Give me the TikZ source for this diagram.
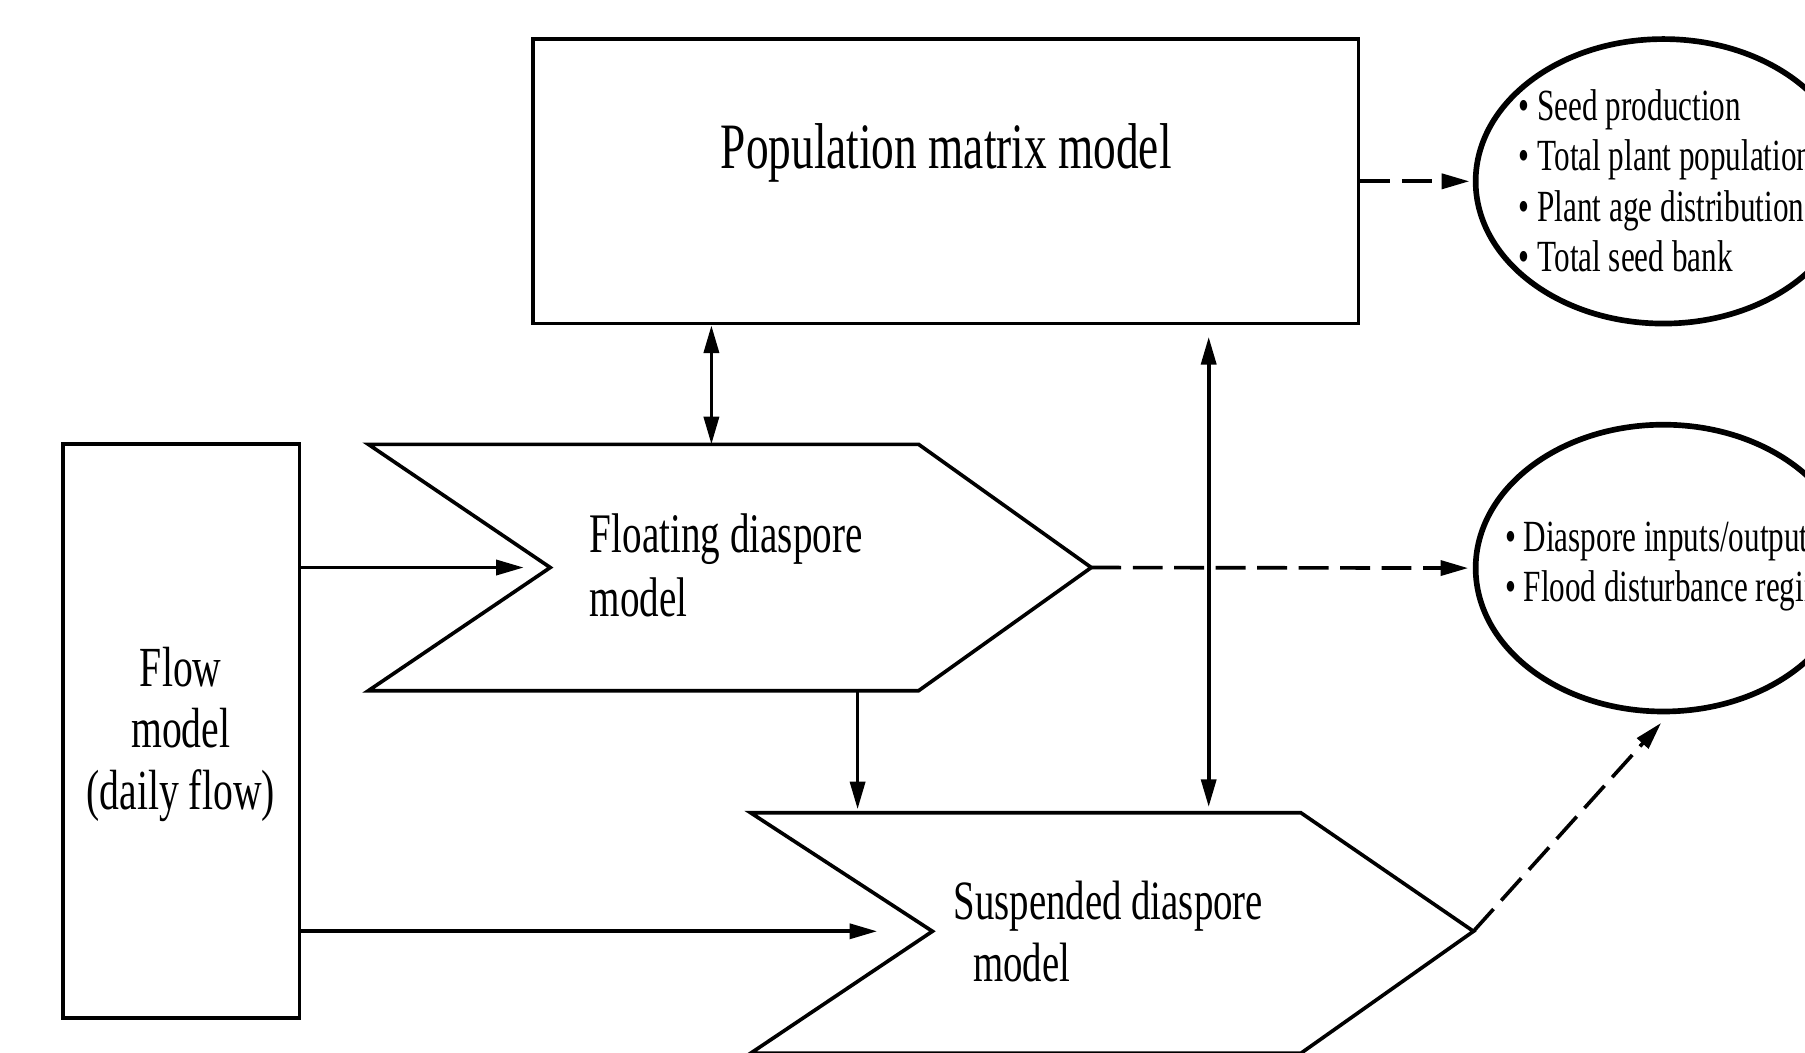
\documentclass[tikz,border=0pt]{standalone}
\usepackage{fontspec}
\setmainfont[FakeStretch=0.7]{Liberation Serif}
\usetikzlibrary{arrows.meta,shapes.geometric}

\begin{document}
\begin{tikzpicture}[x=0.01cm,y=-0.01cm,
  box/.style={draw,line width=0.9pt,inner sep=0pt},
  outbox/.style={draw,ellipse,line width=1.4pt,inner sep=0pt},
  arr/.style={line width=0.9pt,-{Triangle[length=0.24cm,width=0.13cm]}},
  darr/.style={line width=0.9pt,{Triangle[length=0.24cm,width=0.13cm]}-{Triangle[length=0.24cm,width=0.13cm]}},
  dasharr/.style={arr,dash pattern=on 0.26cm off 0.1cm}]
\useasboundingbox (0,0) rectangle (1568,914);
\clip (0,0) rectangle (1568,914);

\node[box,minimum width=7.17cm,minimum height=2.47cm] (pop) at (821.5,157.5) {};
\node[font=\fontsize{16}{19}\selectfont] (poptxt) at (822,133) {Population matrix model};

\node[box,align=center,font=\fontsize{14}{15.3}\selectfont,
  minimum width=2.05cm,minimum height=4.98cm] (flow) at (157.5,635) {};
\node[align=center,font=\fontsize{14}{15.3}\selectfont] (flowtxt) at (157,638) {Flow\\model\\(daily flow)};

\coordinate (fl-top) at (618,386);
\coordinate (fl-bot) at (745,600);
\coordinate (fl-tip) at (948,493);
\coordinate (fl-notch) at (478,493);
\draw[line width=0.9pt] (320,386) -- (798,386) -- (fl-tip) -- (798,600) -- (320,600) -- (fl-notch) -- cycle;
\node[anchor=west,align=left,font=\fontsize{13.8}{15.9}\selectfont] (fltxt) at (500,491)
  {Floating diaspore\\model};

\coordinate (sus-top) at (1050,706);
\coordinate (sus-in) at (745,706);
\coordinate (sus-tip) at (1280,809);
\coordinate (sus-notch) at (810,809);
\draw[line width=0.9pt] (652,706) -- (1130,706) -- (sus-tip) -- (1130,915) -- (652,915) -- (sus-notch) -- cycle;
\node[anchor=west,align=left,font=\fontsize{13.7}{15.3}\selectfont] (sustxt) at (816,809)
  {Suspended diaspore\\\hspace{0.17cm}model};

\node[outbox,minimum width=3.26cm,minimum height=2.47cm] (outA) at (1445,157.5) {};
\node[anchor=west,align=left,font=\fontsize{11}{12.4}\selectfont] (outAtxt) at (1307,157)
  {\textbullet{} Seed production\\\textbullet{} Total plant population\\
   \textbullet{} Plant age distribution\\\textbullet{} Total seed bank};

\node[outbox,minimum width=3.26cm,minimum height=2.49cm] (outB) at (1445,493.5) {};
\node[anchor=west,align=left,font=\fontsize{11}{12.5}\selectfont] (outBtxt) at (1295,492)
  {\textbullet{} Diaspore inputs/outputs\\\textbullet{} Flood disturbance regime};
\coordinate (outB-in) at (1443,628);

\draw[dasharr,shorten >=0.03cm] (pop.east) -- (outA.west);
\draw[darr] (fl-top |- pop.south) -- (fl-top);
\draw[darr,shorten <=0.1cm,shorten >=0.05cm] (sus-top |- pop.south) -- (sus-top);
\draw[arr,shorten >=0.23cm] (flow.east |- fl-notch) -- (fl-notch);
\draw[arr,shorten >=0.48cm] (flow.east |- sus-notch) -- (sus-notch);
\draw[arr,shorten >=0.03cm] (fl-bot) -- (sus-in);
\draw[dasharr,shorten >=0.04cm] (fl-tip) -- (outB.west);
\draw[dasharr] (sus-tip) -- (outB-in);
\end{tikzpicture}
\end{document}
